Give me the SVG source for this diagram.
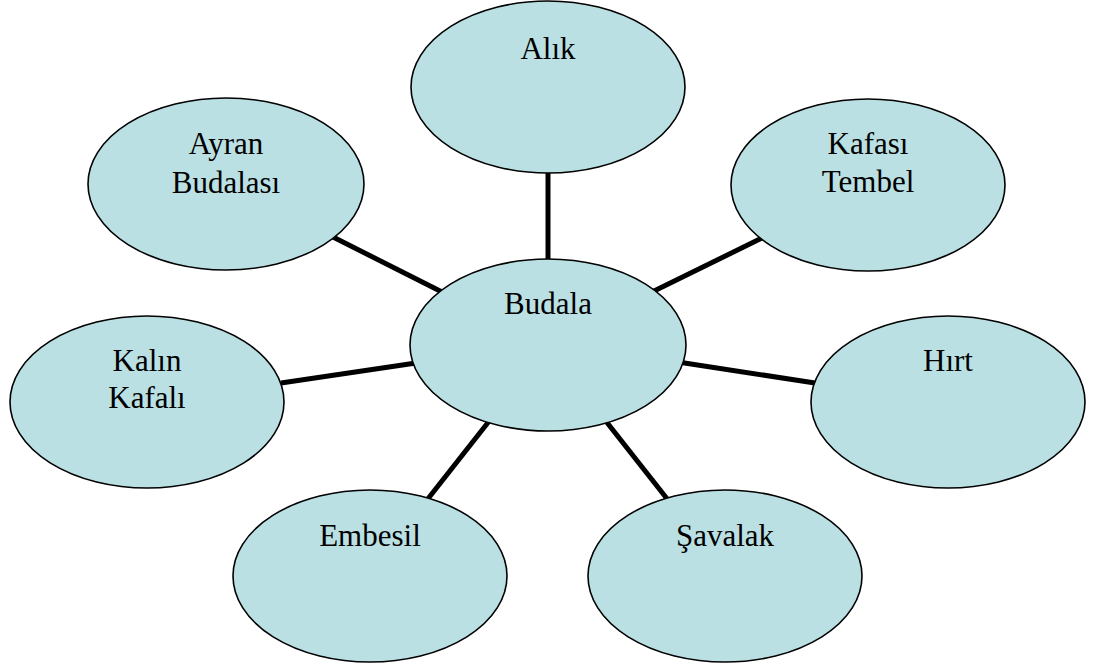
<svg xmlns="http://www.w3.org/2000/svg" width="1095" height="669" viewBox="0 0 1095 669">
<style>
.n{fill:#BAE0E3;stroke:#000;stroke-width:1.6}
.t{font-family:"Liberation Serif","Times New Roman",serif;font-size:31px;fill:#000;text-anchor:middle}
.c{stroke:#000;stroke-width:5;stroke-linecap:butt;fill:none}
</style>
<rect width="1095" height="669" fill="#fff"/>
<g id="connectors">
<line class="c" x1="548" y1="170" x2="548" y2="262"/>
<line class="c" x1="333" y1="237" x2="446" y2="294"/>
<line class="c" x1="764" y1="237" x2="652" y2="292"/>
<line class="c" x1="281" y1="383" x2="416" y2="363"/>
<line class="c" x1="678" y1="362" x2="815" y2="383"/>
<line class="c" x1="427" y1="500" x2="490" y2="420"/>
<line class="c" x1="605" y1="420" x2="668" y2="500"/>
</g>
<g id="node-alik">
<ellipse class="n" cx="548" cy="87" rx="137" ry="86"/>
<text class="t" x="548" y="59">Alık</text>
</g>
<g id="node-ayran">
<ellipse class="n" cx="226" cy="184" rx="138" ry="86"/>
<text class="t" x="226" y="154">Ayran</text>
<text class="t" x="226" y="193">Budalası</text>
</g>
<g id="node-kafasi">
<ellipse class="n" cx="868" cy="185" rx="137" ry="86"/>
<text class="t" x="868" y="154">Kafası</text>
<text class="t" x="868" y="192">Tembel</text>
</g>
<g id="node-budala">
<ellipse class="n" cx="548" cy="345" rx="138" ry="86"/>
<text class="t" x="548" y="314">Budala</text>
</g>
<g id="node-kalin">
<ellipse class="n" cx="147" cy="402" rx="137" ry="86"/>
<text class="t" x="147" y="371">Kalın</text>
<text class="t" x="147" y="408">Kafalı</text>
</g>
<g id="node-hirt">
<ellipse class="n" cx="948" cy="402" rx="137" ry="86"/>
<text class="t" x="948" y="371">Hırt</text>
</g>
<g id="node-embesil">
<ellipse class="n" cx="370" cy="576" rx="137" ry="86"/>
<text class="t" x="370" y="546">Embesil</text>
</g>
<g id="node-savalak">
<ellipse class="n" cx="725" cy="576" rx="137" ry="86"/>
<text class="t" x="725" y="546">Şavalak</text>
</g>
</svg>
